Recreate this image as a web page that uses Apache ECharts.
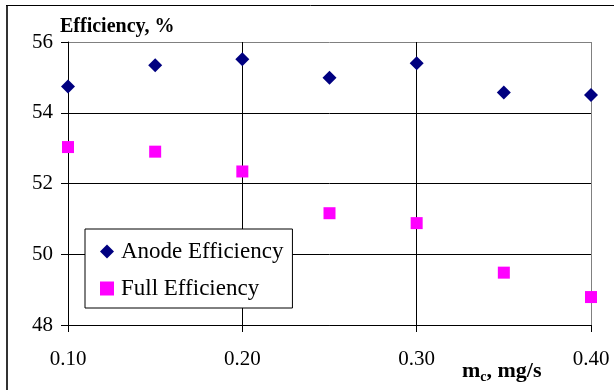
<!DOCTYPE html>
<html>
<head>
<meta charset="utf-8">
<script src="https://cdn.jsdelivr.net/npm/echarts@6/dist/echarts.min.js"></script>
<style>
  html, body { margin: 0; padding: 0; background: #fff; }
  #chart { width: 614px; height: 390px; }
</style>
</head>
<body>
<div id="chart"></div>
<script>
// Mass flow rate, mg/s
const flowRates = [0.10, 0.15, 0.20, 0.25, 0.30, 0.35, 0.40];
// Efficiency values, %
const anodeEfficiency = [54.74, 55.34, 55.51, 54.99, 55.40, 54.57, 54.50];
const fullEfficiency = [53.03, 52.90, 52.34, 51.16, 50.88, 49.48, 48.79];
const seriesNames = ['Anode Efficiency', 'Full Efficiency'];
const yAxisTitle = 'Efficiency, %';

const serif = '"Liberation Serif", "Times New Roman", serif';

const chart = echarts.init(document.getElementById('chart'), null, { renderer: 'canvas' });

const pairs = (xs, ys) => xs.map((x, i) => [x, ys[i]]);

chart.setOption({
  backgroundColor: '#fff',
  animation: false,
  grid: { left: 68, top: 42, right: 23, bottom: 65, show: false },
  legend: {
    orient: 'vertical',
    left: 85,
    top: 229,
    padding: [11, 9, 8, 15],
    itemGap: 14,
    itemWidth: 14,
    itemHeight: 14,
    backgroundColor: '#fff',
    borderColor: '#000',
    borderWidth: 1,
    borderRadius: 0,
    textStyle: { fontFamily: serif, fontSize: 23, color: '#000', padding: [0, 0, 0, 2] },
    data: seriesNames.map(n => ({ name: n }))
  },
  xAxis: {
    type: 'value',
    min: 0.1,
    max: 0.4,
    interval: 0.1,
    axisLine: { show: true, onZero: false, lineStyle: { color: '#000', width: 1 } },
    axisTick: { show: true, inside: false, length: 7, lineStyle: { color: '#000' } },
    axisLabel: {
      margin: 24,
      fontFamily: serif,
      fontSize: 21,
      color: '#000',
      formatter: v => v.toFixed(2)
    },
    splitLine: { show: true, lineStyle: { color: ['#000', '#000', '#000', '#808080'], width: 1 } }
  },
  yAxis: {
    type: 'value',
    min: 48,
    max: 56,
    interval: 2,
    axisLine: { show: true, onZero: false, lineStyle: { color: '#000', width: 1 } },
    axisTick: { show: true, inside: false, length: 7, lineStyle: { color: '#000' } },
    axisLabel: { margin: 15, fontFamily: serif, fontSize: 21, color: '#000' },
    splitLine: { show: true, lineStyle: { color: ['#000', '#000', '#000', '#000', '#808080'], width: 1 } }
  },
  series: [
    {
      name: seriesNames[0],
      type: 'scatter',
      symbol: 'diamond',
      symbolSize: [14, 14],
      clip: false,
      itemStyle: { color: '#000080', opacity: 1 },
      data: pairs(flowRates, anodeEfficiency)
    },
    {
      name: seriesNames[1],
      type: 'scatter',
      symbol: 'rect',
      symbolSize: 12,
      clip: false,
      itemStyle: { color: '#FF00FF', opacity: 1 },
      data: pairs(flowRates, fullEfficiency)
    }
  ],
  graphic: [
    // outer chart frame
    { type: 'line', silent: true, shape: { x1: 7, y1: 5, x2: 7, y2: 400 }, style: { stroke: '#333', lineWidth: 2 } },
    { type: 'line', silent: true, shape: { x1: 6, y1: 5.5, x2: 620, y2: 5.5 }, style: { stroke: '#000', lineWidth: 1 } },
    // y-axis title
    {
      type: 'text', left: 60, top: 17, silent: true,
      style: { text: yAxisTitle, font: 'bold 20px ' + serif, fill: '#000' }
    },
    // x-axis title with subscript
    {
      type: 'text', left: 462, top: 360, silent: true,
      style: {
        text: '{a|m}{b|c}{a|, mg/s}',
        rich: {
          a: { fontFamily: serif, fontWeight: 'bold', fontSize: 22, color: '#000', lineHeight: 26, verticalAlign: 'middle' },
          b: { fontFamily: serif, fontWeight: 'bold', fontSize: 14, color: '#000', lineHeight: 15, verticalAlign: 'bottom' }
        }
      }
    }
  ]
});
</script>
</body>
</html>
